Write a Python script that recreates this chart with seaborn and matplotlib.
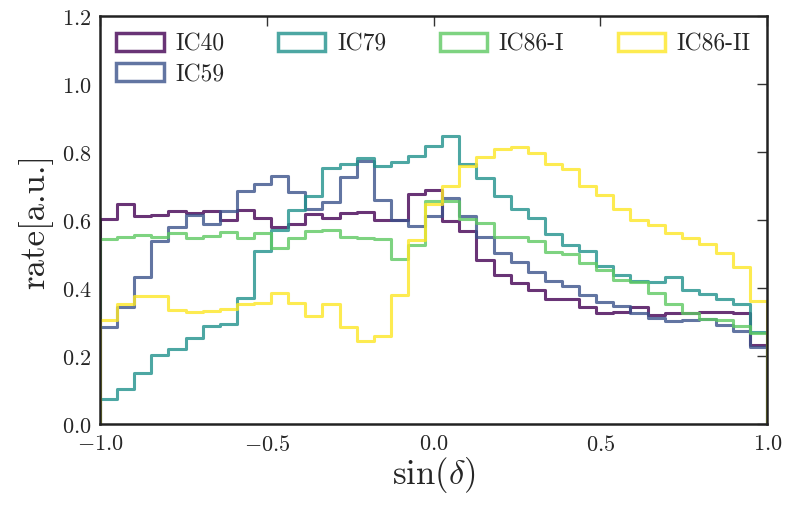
import numpy as np
import pandas as pd
import matplotlib
matplotlib.use("Agg")
import matplotlib.pyplot as plt
import matplotlib.patches as mpatches
from matplotlib.ticker import FuncFormatter
import seaborn as sns

# ---- data (39 bins in sin(delta) from -1 to 1) ----
n_bins = 39
detectors = ["IC40", "IC59", "IC79", "IC86-I", "IC86-II"]

ic40 = [0.604, 0.647, 0.611, 0.615, 0.626, 0.622, 0.628, 0.601, 0.630, 0.607,
        0.580, 0.588, 0.618, 0.607, 0.621, 0.624, 0.601, 0.601, 0.677, 0.689,
        0.596, 0.569, 0.482, 0.440, 0.416, 0.395, 0.368, 0.368, 0.345, 0.328,
        0.331, 0.345, 0.322, 0.327, 0.326, 0.329, 0.329, 0.327, 0.232]
ic59 = [0.285, 0.344, 0.432, 0.540, 0.579, 0.616, 0.589, 0.626, 0.685, 0.706,
        0.729, 0.684, 0.633, 0.653, 0.726, 0.775, 0.659, 0.601, 0.584, 0.611,
        0.665, 0.611, 0.551, 0.503, 0.476, 0.447, 0.420, 0.405, 0.380, 0.358,
        0.347, 0.328, 0.312, 0.303, 0.306, 0.308, 0.292, 0.275, 0.227]
ic79 = [0.074, 0.103, 0.150, 0.204, 0.221, 0.254, 0.287, 0.293, 0.371, 0.508,
        0.572, 0.631, 0.672, 0.754, 0.765, 0.783, 0.758, 0.772, 0.790, 0.817,
        0.847, 0.765, 0.724, 0.672, 0.633, 0.607, 0.558, 0.526, 0.509, 0.465,
        0.440, 0.420, 0.417, 0.432, 0.395, 0.383, 0.368, 0.353, 0.270]
ic86_1 = [0.543, 0.551, 0.556, 0.551, 0.561, 0.547, 0.553, 0.566, 0.548, 0.563,
          0.518, 0.547, 0.569, 0.571, 0.549, 0.546, 0.544, 0.486, 0.528, 0.657,
          0.657, 0.603, 0.593, 0.549, 0.549, 0.540, 0.506, 0.500, 0.475, 0.452,
          0.425, 0.418, 0.387, 0.354, 0.326, 0.309, 0.305, 0.288, 0.268]
ic86_2 = [0.307, 0.353, 0.376, 0.378, 0.336, 0.329, 0.332, 0.339, 0.353, 0.355,
          0.385, 0.355, 0.317, 0.352, 0.285, 0.244, 0.260, 0.380, 0.541, 0.646,
          0.699, 0.760, 0.786, 0.809, 0.816, 0.798, 0.765, 0.749, 0.700, 0.674,
          0.633, 0.601, 0.585, 0.563, 0.548, 0.531, 0.503, 0.461, 0.363]
series = [ic40, ic59, ic79, ic86_1, ic86_2]

x_ticks = [-1.0, -0.5, 0.0, 0.5, 1.0]
y_ticks = [0.0, 0.2, 0.4, 0.6, 0.8, 1.0, 1.2]

edges = np.linspace(-1, 1, n_bins + 1)
centers = 0.5 * (edges[:-1] + edges[1:])

df = pd.concat([pd.DataFrame({"sindec": centers, "rate": vals, "det": name})
                for name, vals in zip(detectors, series)], ignore_index=True)

# ---- style ----
sns.set_style("white")
plt.rcParams["mathtext.fontset"] = "cm"
plt.rcParams["font.family"] = ["cmr10", "DejaVu Serif"]
plt.rcParams["axes.unicode_minus"] = False

colors = [plt.cm.viridis(v) for v in np.linspace(0, 1, 5)]
palette = dict(zip(detectors, colors))

fig = plt.figure(figsize=(7.87, 5.06), dpi=100)
ax = fig.add_axes([0.127, 0.160, 0.848, 0.806])

lw = 2.2
alpha = 0.8
for name in detectors:
    sub = df[df["det"] == name]
    sns.histplot(data=sub, x="sindec", weights="rate", bins=n_bins,
                 binrange=(-1, 1), element="step", fill=False,
                 color=palette[name], linewidth=lw, alpha=alpha, ax=ax,
                 legend=False)
    vals = sub["rate"].to_numpy()
    ax.vlines([edges[0], edges[-1]], 0, [vals[0], vals[-1]],
              color=palette[name], linewidth=lw, alpha=alpha)

ax.set_xlim(-1, 1)
ax.set_ylim(0, 1.2)
ax.set_xticks(x_ticks)
ax.set_yticks(y_ticks)


def fmt(v, pos):
    return r"$" + f"{v:.1f}" + r"$"


ax.xaxis.set_major_formatter(FuncFormatter(fmt))
ax.yaxis.set_major_formatter(FuncFormatter(fmt))
ax.tick_params(direction="in", top=True, right=True, length=7, width=1,
               labelsize=16, color="#333333")
ax.tick_params(axis="x", pad=7)
ax.tick_params(axis="y", pad=6)
for sp in ax.spines.values():
    sp.set_linewidth(1.8)
    sp.set_color("#222222")
    sp.set_visible(True)

ax.set_xlabel(r"$\sin(\delta)$", fontsize=25, labelpad=0)
ax.set_ylabel("rate[a.u.]", fontsize=25, labelpad=6)

handles = [mpatches.Patch(facecolor="none", edgecolor=palette[n], linewidth=lw + 0.3,
                          alpha=alpha) for n in detectors]
ax.legend(handles, detectors, ncol=4, loc="upper left", mode="expand",
          bbox_to_anchor=(0.0, 0.86, 1.0, 0.14), frameon=False, fontsize=17,
          handlelength=2.0, handleheight=0.8, handletextpad=0.5,
          labelspacing=0.35, borderaxespad=0.3)

fig.savefig("out.png", dpi=100)
